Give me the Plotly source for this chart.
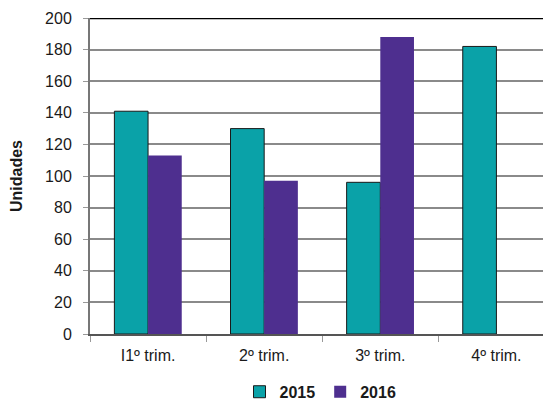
import plotly.graph_objects as go

categories = ["I1º trim.", "2º trim.", "3º trim.", "4º trim."]
values_2015 = [141, 130, 96, 182]
values_2016 = [113, 97, 188, None]
y_ticks = [0, 20, 40, 60, 80, 100, 120, 140, 160, 180, 200]

teal = "#0AA2A8"
purple = "#4E2F8F"
font_family = "Liberation Sans, Arial, sans-serif"

fig = go.Figure()
fig.add_trace(go.Bar(name="2015", x=categories, y=values_2015,
                     marker=dict(color=teal, line=dict(color="#1a1a1a", width=1))))
fig.add_trace(go.Bar(name="2016", x=categories, y=values_2016,
                     marker=dict(color=purple, line=dict(width=0))))

fig.update_layout(
    width=543, height=395,
    margin=dict(l=82, r=0, t=10, b=69, autoexpand=False),
    paper_bgcolor="white", plot_bgcolor="white",
    barmode="group", bargap=0.42, bargroupgap=0,
    font=dict(family=font_family, size=16, color="#1a1a1a"),
    showlegend=True,
    legend=dict(orientation="h", x=0.5, xanchor="center", y=-0.183, yanchor="middle",
                font=dict(size=16, family=font_family, weight="bold"),
                traceorder="normal", itemwidth=30),
    xaxis=dict(
        type="category", range=[-0.5, 3.47], automargin=False,
        showline=True, linecolor="#555555", linewidth=2,
        ticks="outside", tickson="boundaries", ticklen=6, tickcolor="#999999", tickwidth=1,
        showgrid=False, tickfont=dict(size=16), ticklabelstandoff=6,
    ),
    yaxis=dict(
        range=[0, 200], tickvals=y_ticks, automargin=False,
        showline=True, linecolor="#777777", linewidth=2,
        ticks="outside", ticklen=5, tickcolor="#999999", tickwidth=1,
        showgrid=True, gridcolor="#8a8a8a", gridwidth=2,
        zeroline=False, tickfont=dict(size=16), ticklabelstandoff=8,
        title=dict(text="<b>Unidades</b>", font=dict(size=16), standoff=18),
    ),
    shapes=[dict(type="line", xref="paper", yref="y", x0=0, x1=1, y0=200, y1=200,
                 line=dict(color="black", width=2.5))],
)

fig.write_html("out.html")
